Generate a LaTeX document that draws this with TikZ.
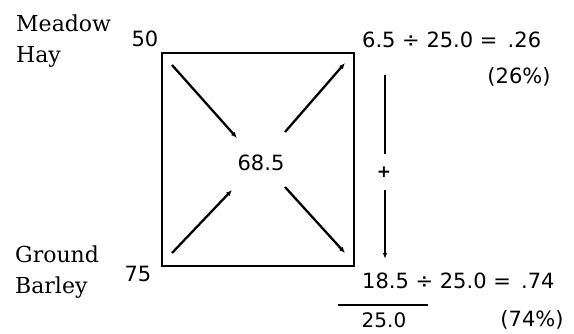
\documentclass[tikz,border=0pt]{standalone}
\usepackage{fontspec}
\setmainfont{DejaVu Serif}
\newfontfamily\numfont{DejaVu Sans}
\usepackage{tikz}
\usetikzlibrary{positioning,arrows.meta}

\tikzset{
  feedlabel/.style={font=\fontsize{22}{31}\selectfont, align=left, inner sep=0pt},
  numlabel/.style={font=\numfont\fontsize{21}{25}\selectfont, inner sep=0pt},
  squarebox/.style={draw, line width=1.8pt, minimum width=192pt, minimum height=213pt, inner sep=0pt},
  diagarrow/.style={line width=2.3pt, -{Latex[length=6pt,width=5pt]}},
  sumarrow/.style={line width=1.6pt, -{Latex[length=6pt,width=4.5pt]}}
}

\begin{document}
\begin{tikzpicture}[x=1pt,y=-1pt]
  \useasboundingbox (0,0) rectangle (574,333);

  % the square
  \node[squarebox] (box) at (258,159.5) {};
  \node[numlabel] (mix) at (261,163) {68.5};

  % feeds and their protein values
  \node[feedlabel, anchor=north west] (hay) at (16,15) {Meadow\\Hay};
  \node[feedlabel, anchor=north west] (barley) at (15,246) {Ground\\Barley};
  \node[numlabel] (hayval) at (145,39) {50};
  \node[numlabel] (barleyval) at (138,274) {75};

  % parts and proportions
  \node[numlabel, anchor=west] (haypart) at (362,40) {6.5 ÷ 25.0 = \,.26};
  \node[numlabel] (haypct) at (519,77) {(26\%)};
  \node[numlabel, anchor=west] (barleypart) at (362,281) {18.5 ÷ 25.0 = \,.74};
  \node[numlabel] (barleypct) at (532,320) {(74\%)};
  \node[numlabel, font=\numfont\fontsize{20}{24}\selectfont] (total) at (384,320) {25.0};
  \node[numlabel, font=\numfont\bfseries\fontsize{17}{20}\selectfont, minimum height=35pt] (plus) at (384,172) {+};

  % arrow ends
  \coordinate (tlA) at (172,65);  \coordinate (tlB) at (237,138);
  \coordinate (trA) at (285,132); \coordinate (trB) at (345,63);
  \coordinate (blA) at (172,253); \coordinate (blB) at (232,190);
  \coordinate (brA) at (285,187); \coordinate (brB) at (345,253);
  \coordinate (sumtop) at (385,75);
  \coordinate (sumbot) at (385,259);
  \coordinate (barL) at (338,305);
  \coordinate (barR) at (428,305);

  \draw[diagarrow] (tlA) -- (tlB);
  \draw[diagarrow] (trA) -- (trB);
  \draw[diagarrow] (blA) -- (blB);
  \draw[diagarrow] (brA) -- (brB);

  \draw[line width=1.6pt] (sumtop) -- (sumtop |- plus.north);
  \draw[sumarrow] (sumtop |- plus.south) -- (sumbot);
  \draw[line width=1.6pt] (barL) -- (barR);
\end{tikzpicture}
\end{document}
